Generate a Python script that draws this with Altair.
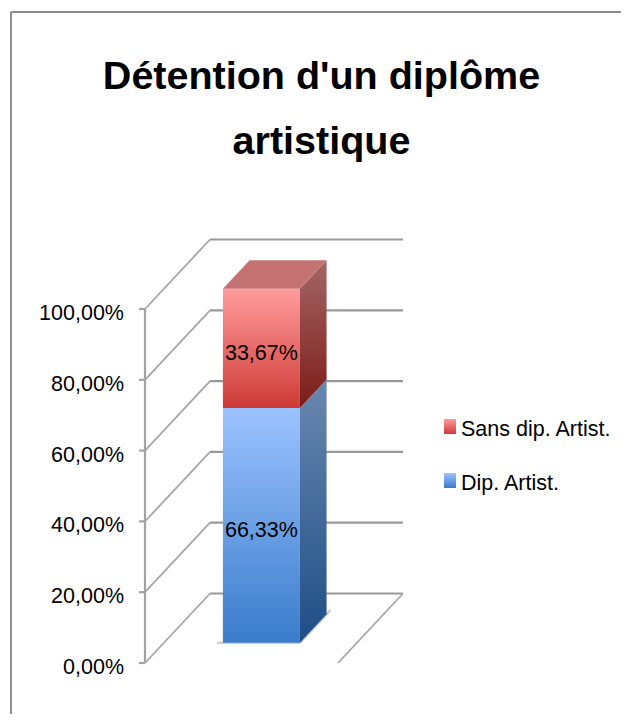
import altair as alt
import pandas as pd

TITLE_LINES = ["Détention d'un diplôme", "artistique"]
SERIES = ["Dip. Artist.", "Sans dip. Artist."]
VALUES = [66.33, 33.67]
TICKS = [0, 20, 40, 60, 80, 100]

FONT = "Liberation Sans"
GRID = "#999999"
W, H = 613, 706
PX_X, PX_Y = 193.0, 3.54      # pixels per x unit / per percent
ORIGIN_X, ORIGIN_Y = 137, 655  # pixel position of the axis origin in the plot
xs = alt.Scale(domain=[-ORIGIN_X / PX_X, (W - ORIGIN_X) / PX_X], nice=False, zero=False)
ys = alt.Scale(domain=[(ORIGIN_Y - H) / PX_Y, ORIGIN_Y / PX_Y], nice=False, zero=False)

# 3-D projection: depth 1 moves the point right and up
DEPTH_X, DEPTH_Y = 65 / PX_X, 69.5 / PX_Y
TICK_LEN = 6 / PX_X
LABEL_GAP = 15 / PX_X


def proj(x, y, d=0.0):
    return x + d * DEPTH_X, y + d * DEPTH_Y


BAR_L, BAR_R = 0.306, 0.705
BAR_D0, BAR_D1 = 0.29, 0.70


def grad(top, bottom):
    return alt.Gradient(gradient="linear", x1=0, y1=0, x2=0, y2=1,
                        stops=[alt.GradientStop(color=top, offset=0),
                               alt.GradientStop(color=bottom, offset=1)])


FRONT = [grad("#9CC3FF", "#3A7CCB"), grad("#FF9C9C", "#CE3A36")]
SIDE = [grad("#6A88B0", "#1E4E85"), grad("#A46666", "#7C1B18")]
TOP_FILL = "#C47372"

X = alt.X("x:Q", scale=xs, axis=None)
Y = alt.Y("y:Q", scale=ys, axis=None)


def segs(rows):
    out = []
    for (a, b) in rows:
        out.append({"x": a[0], "y": a[1], "x2": b[0], "y2": b[1]})
    return pd.DataFrame(out)


def rule(rows, color, width, opacity=1.0):
    return alt.Chart(segs(rows)).mark_rule(color=color, strokeWidth=width, opacity=opacity).encode(
        x=X, y=Y, x2="x2:Q", y2="y2:Q")


layers = []

# frame
layers.append(alt.Chart(pd.DataFrame({"a": [0]})).mark_rule(color="#8E8E8E", strokeWidth=2).encode(
    x=alt.value(3), y=alt.value(4), y2=alt.value(H)))
layers.append(alt.Chart(pd.DataFrame({"a": [0]})).mark_rule(color="#8E8E8E", strokeWidth=2).encode(
    x=alt.value(3), x2=alt.value(W), y=alt.value(4)))

# walls and floor
layers.append(rule([(proj(0, t, 1), proj(1, t, 1)) for t in TICKS], GRID, 2.2))
layers.append(rule([(proj(0, t, 0), proj(0, t, 1)) for t in TICKS]
                   + [(proj(1, 0, 0), proj(1, 0, 1))], "#A6A6A6", 1.8))

# value axis: line, ticks, labels
layers.append(rule([(proj(0, 0), proj(0, 100))] + [((-TICK_LEN, t), (0, t)) for t in TICKS], "#A3A3A3", 2.2))
axis_labels = pd.DataFrame({"x": [-(TICK_LEN + LABEL_GAP)] * len(TICKS), "y": TICKS,
                            "t": [f"{t:.2f}%".replace(".", ",") for t in TICKS]})
layers.append(alt.Chart(axis_labels).mark_text(font=FONT, fontSize=21.5, align="right", color="#000000", dy=5).encode(
    x=X, y=Y, text="t:N"))

# shadow at the foot of the bar
foot = proj(BAR_R, 0, BAR_D0)
layers.append(rule([(proj(BAR_L - 0.03, 0, BAR_D0), foot),
                    (foot, proj(BAR_R, 0, BAR_D1 + 0.06))], "#CFCFCF", 2.5))

# stacked 3-D bar
base = 0.0
for i, v in enumerate(VALUES):
    top = base + v
    lx, y0 = proj(BAR_L, base, BAR_D0)
    rx, y1 = proj(BAR_R, top, BAR_D0)
    front = pd.DataFrame([{"x": lx, "x2": rx, "y": y0, "y2": y1}])
    layers.append(alt.Chart(front).mark_rect(color=FRONT[i]).encode(
        x=X, x2="x2:Q", y=Y, y2="y2:Q"))
    side = pd.DataFrame([
        dict(zip(["x", "y"], proj(BAR_R, base, d)), y2=proj(BAR_R, top, d)[1])
        for d in (BAR_D0, BAR_D1)])
    layers.append(alt.Chart(side).mark_area(color=SIDE[i]).encode(x=X, y=Y, y2="y2:Q"))
    if i == len(VALUES) - 1:
        tp = pd.DataFrame([
            {"x": proj(BAR_L, top, d)[0], "x2": proj(BAR_R, top, d)[0], "y": proj(BAR_L, top, d)[1]}
            for d in (BAR_D0, BAR_D1)])
        layers.append(alt.Chart(tp).mark_area(color=TOP_FILL, orient="horizontal").encode(
            x=X, x2="x2:Q", y=Y))
    cx = (BAR_L + BAR_R) / 2
    lab = pd.DataFrame([{"x": proj(cx, 0, BAR_D0)[0], "y": proj(cx, base + v / 2, BAR_D0)[1],
                         "t": f"{v:.2f}%".replace(".", ",")}])
    layers.append(alt.Chart(lab).mark_text(font=FONT, fontSize=21.5, color="#000000", dy=6).encode(
        x=X, y=Y, text="t:N"))
    base = top

# legend
for i, (name, yc) in enumerate(zip(SERIES, [473, 419])):
    layers.append(alt.Chart(pd.DataFrame({"a": [0]})).mark_rect(color=FRONT[i]).encode(
        x=alt.value(436), x2=alt.value(448), y=alt.value(yc - 8), y2=alt.value(yc + 7)))
    layers.append(alt.Chart(pd.DataFrame({"t": [name]})).mark_text(
        font=FONT, fontSize=21.5, align="left", color="#000000", dy=2.5).encode(
        x=alt.value(453), y=alt.value(yc), text="t:N"))

chart = alt.layer(*layers).properties(
    width=W, height=H, padding=0,
    autosize=alt.AutoSizeParams(type="none"),
    title=alt.TitleParams(TITLE_LINES, font=FONT, fontSize=39.5, fontWeight="bold", color="#000000",
                          anchor="middle", frame="group", lineHeight=65, baseline="top", dy=158, dx=7),
).configure_view(stroke=None)

chart.save("out.html", embed_options={"renderer": "svg", "actions": False})
